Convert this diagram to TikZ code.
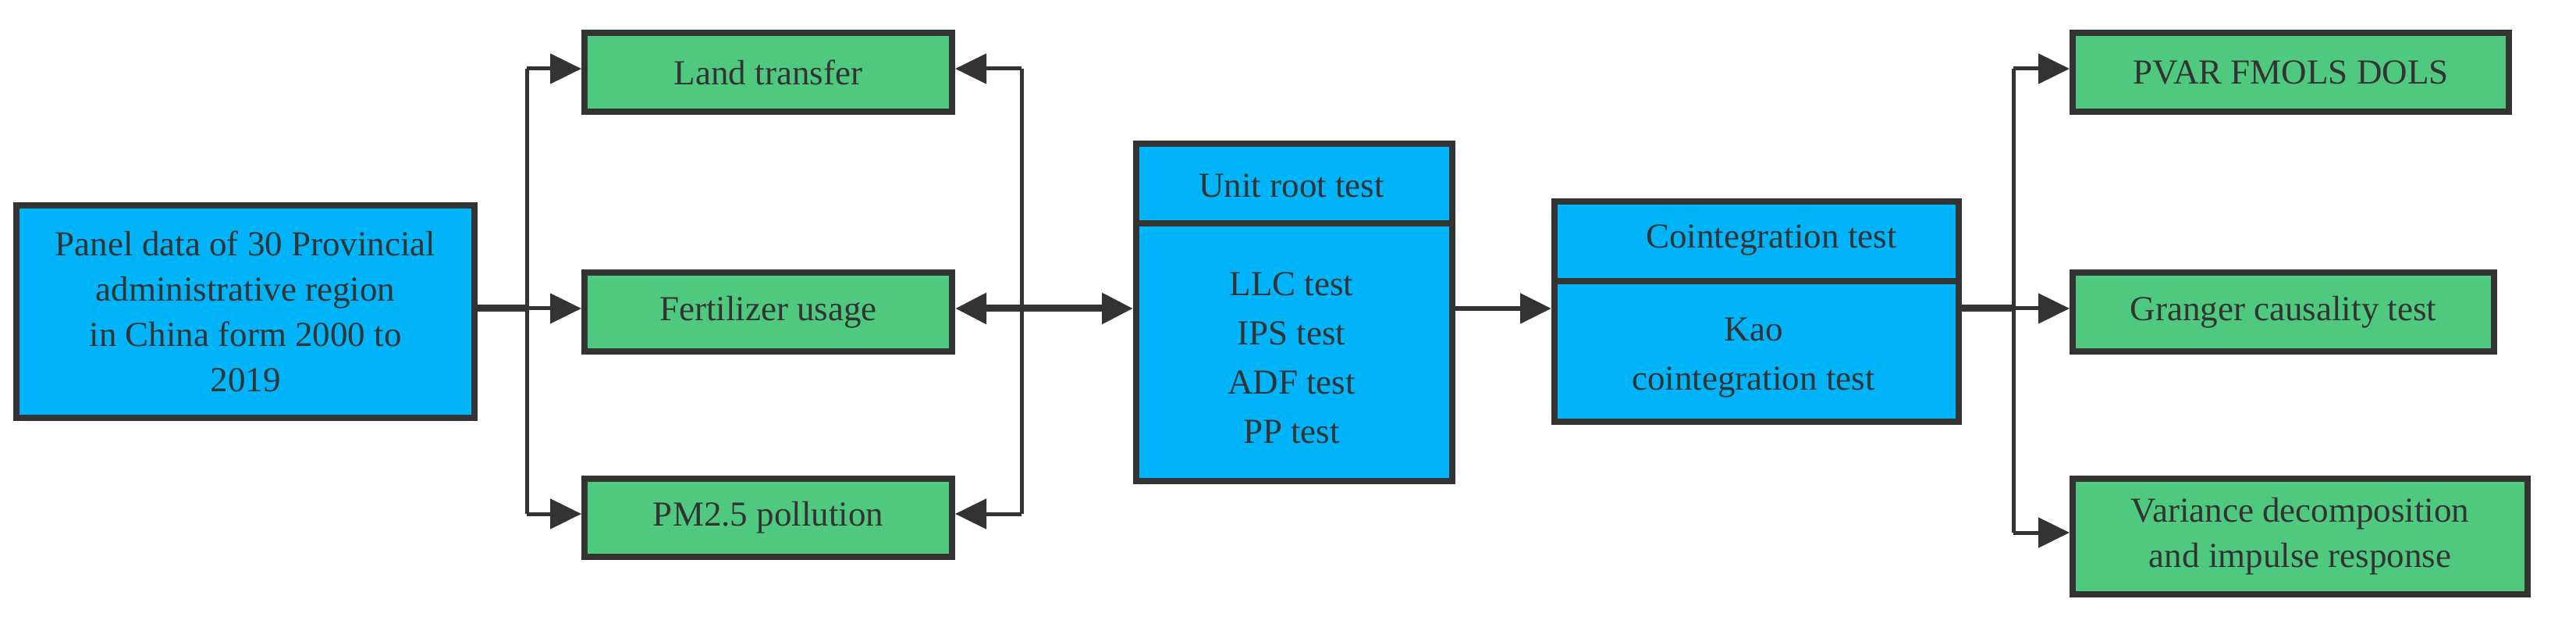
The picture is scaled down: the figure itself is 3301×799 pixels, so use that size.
\documentclass[tikz,border=0pt]{standalone}
\usepackage{fontspec}
\setmainfont{Liberation Serif}
\newfontfamily\myser{Liberation Serif}
\usetikzlibrary{arrows.meta}
\definecolor{bx}{HTML}{00B4FA}
\definecolor{gr}{HTML}{4FC97F}
\definecolor{ln}{HTML}{333333}
\begin{document}
\begin{tikzpicture}[x=1pt,y=-1pt,
  box/.style={draw=ln,line width=8pt,inner sep=0pt,anchor=north west,align=center,font=\myser\fontsize{45}{58}\selectfont,text=ln},
  g/.style={box,fill=gr},
  b/.style={box,fill=bx},
  txt/.style={font=\myser\fontsize{45}{63}\selectfont,text=ln,align=center},
  con/.style={draw=ln,line width=5pt},
  arr/.style={con,-{Triangle[length=40pt,width=38pt]}},
  thick con/.style={draw=ln,line width=9pt}]
\useasboundingbox (0,0) rectangle (3301,799);
\fill[white] (0,0) rectangle (3301,799);
\node[b,minimum width=587pt,minimum height=272pt] (panel) at (17,259) {Panel data of 30 Provincial\\administrative region\\in China form 2000 to\\2019};
\node[g,minimum width=471pt,minimum height=101pt] (land) at (745,38) {Land transfer};
\node[g,minimum width=471pt,minimum height=101pt] (fert) at (745,345) {Fertilizer usage};
\node[g,minimum width=471pt,minimum height=100pt] (pm) at (745,609) {PM2.5 pollution};
\node[b,minimum width=405pt,minimum height=432pt] (unit) at (1452,180) {};
\draw[ln,line width=8pt] (1452,286) -- (1857,286);
\node[txt] (unitt) at (1655,238) {Unit root test};
\node[txt] (unitb) at (1655,458) {LLC test\\IPS test\\ADF test\\PP test};
\node[b,minimum width=518pt,minimum height=282pt] (coint) at (1988,254) {};
\draw[ln,line width=8pt] (1988,360) -- (2506,360);
\node[txt] (ct) at (2270,307) {Cointegration test};
\node[txt] (cb) at (2247,458) {Kao\\cointegration test};
\node[g,minimum width=559pt,minimum height=101pt] (pvar) at (2652,38) {PVAR FMOLS DOLS};
\node[g,minimum width=540pt,minimum height=101pt] (gran) at (2652,345) {Granger causality test};
\node[g,minimum width=583pt,minimum height=148pt] (var) at (2652,609) {Variance decomposition\\and impulse response};
\coordinate (f1) at (675,395);
\coordinate (f1t) at (675,88);
\coordinate (f1b) at (675,658);
\coordinate (f2) at (1309,395);
\coordinate (f2t) at (1309,88);
\coordinate (f2b) at (1309,658);
\coordinate (f3) at (2580,395);
\coordinate (f3t) at (2580,88);
\coordinate (f3b) at (2580,682);
\draw[thick con] (panel.east |- f1) -- (f1);
\draw[con] (f1t) -- (f1b);
\draw[arr] (f1t) -- (land.west |- f1t);
\draw[arr] (f1) -- (fert.west |- f1);
\draw[arr] (f1b) -- (pm.west |- f1b);
\draw[con] (f2t) -- (f2b);
\draw[arr] (f2t) -- (land.east |- f2t);
\draw[arr] (f2b) -- (pm.east |- f2b);
\draw[thick con,{Triangle[length=40pt,width=38pt]}-{Triangle[length=40pt,width=38pt]}] (fert.east |- f2) -- (unit.west |- f2);
\draw[con,line width=6pt,-{Triangle[length=40pt,width=38pt]}] (unit.east |- f2) -- (coint.west |- f2);
\draw[thick con] (coint.east |- f3) -- (f3);
\draw[con] (f3t) -- (f3b);
\draw[arr] (f3t) -- (pvar.west |- f3t);
\draw[arr] (f3) -- (gran.west |- f3);
\draw[arr] (f3b) -- (var.west |- f3b);
\end{tikzpicture}
\end{document}
